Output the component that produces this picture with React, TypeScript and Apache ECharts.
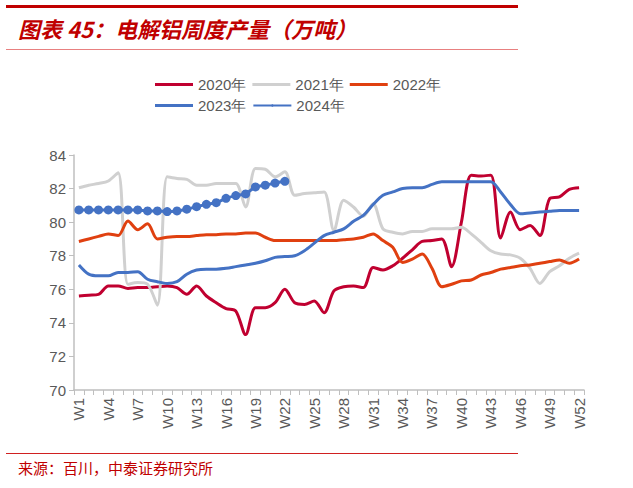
import { useRef, useEffect } from "react";
import * as echarts from "echarts";

const weeks = Array.from({ length: 52 }, (_, i) => `W${i + 1}`);

const y2020 = [
  75.6, 75.65, 75.7, 76.2, 76.2, 76.05, 76.1, 76.1, 76.15, 76.2, 76.1, 75.7, 76.2,
  75.6, 75.2, 74.85, 74.7, 73.3, 74.9, 74.9, 75.2, 76.0, 75.2, 75.1, 75.3, 74.6,
  75.9, 76.15, 76.2, 76.1, 77.3, 77.15, 77.4, 77.85, 78.35, 78.85, 78.9, 79.0, 77.35,
  80.0, 82.8, 82.75, 82.8, 79.05, 80.6, 79.55, 79.8, 79.2, 81.4, 81.5, 81.95, 82.05,
];
const y2021 = [
  82.05, 82.2, 82.3, 82.45, 82.95, 76.3, 76.4, 76.3, 75.05, 82.7, 82.6, 82.55, 82.2,
  82.2, 82.3, 82.3, 82.3, 80.9, 83.2, 83.15, 82.7, 83.0, 81.6, 81.7, 81.75, 81.8,
  79.5, 81.3, 80.9, 80.35, 81.1, 79.6, 79.4, 79.3, 79.45, 79.45, 79.6, 79.6, 79.6,
  79.7, 79.3, 78.8, 78.3, 78.1, 78.05, 77.85, 77.25, 76.35, 77.05, 77.4, 77.85, 78.15,
];
const y2022 = [
  78.85, 79.0, 79.15, 79.3, 79.2, 80.07, 79.55, 79.9, 79.0, 79.1, 79.15, 79.15, 79.2,
  79.25, 79.25, 79.3, 79.3, 79.35, 79.35, 79.1, 78.9, 78.9, 78.9, 78.9, 78.9, 78.9,
  78.9, 78.95, 79.0, 79.1, 79.3, 78.9, 78.5, 77.6, 77.8, 78.1, 77.25, 76.15, 76.3,
  76.5, 76.55, 76.85, 77.0, 77.2, 77.3, 77.4, 77.45, 77.55, 77.65, 77.75, 77.55, 77.8,
];
const y2023 = [
  77.45, 76.9, 76.8, 76.8, 77.0, 77.0, 77.05, 76.6, 76.45, 76.35, 76.45, 76.9, 77.15,
  77.2, 77.2, 77.25, 77.35, 77.45, 77.55, 77.7, 77.9, 77.95, 78.0, 78.3, 78.75, 79.2,
  79.4, 79.6, 80.05, 80.4, 81.05, 81.6, 81.8, 82.0, 82.05, 82.05, 82.25, 82.4, 82.4,
  82.4, 82.4, 82.4, 82.4, 81.8, 81.05, 80.5, 80.55, 80.6, 80.65, 80.7, 80.7, 80.7,
];
const y2024 = [
  80.73, 80.73, 80.73, 80.73, 80.73, 80.73, 80.73, 80.67, 80.67, 80.63, 80.67, 80.77,
  80.92, 81.06, 81.16, 81.42, 81.58, 81.68, 82.1, 82.2, 82.33, 82.43,
];

const seriesDefs = [
  { name: "2020年", data: y2020, color: "#c00030" },
  { name: "2021年", data: y2021, color: "#d0d0d0" },
  { name: "2022年", data: y2022, color: "#e04010" },
  { name: "2023年", data: y2023, color: "#4472c4" },
];

export default function App() {
  const ref = useRef<HTMLDivElement>(null);

  useEffect(() => {
    if (!ref.current) return;
    const chart = echarts.init(ref.current, undefined, { renderer: "svg" });
    const font = "'Liberation Sans', Arial, sans-serif";
    const series: echarts.SeriesOption[] = seriesDefs.map((s) => ({
      name: s.name,
      type: "line" as const,
      data: s.data,
      smooth: 0.3,
      symbol: "none",
      lineStyle: { width: 3, color: s.color },
      itemStyle: { color: s.color },
    }));
    series.push({
      name: "2024年",
      type: "line",
      data: y2024,
      smooth: 0.3,
      symbol: "circle",
      symbolSize: 9,
      showAllSymbol: true,
      lineStyle: { width: 3, color: "#4472c4" },
      itemStyle: { color: "#4472c4" },
      z: 5,
    });

    chart.setOption({
      animation: false,
      backgroundColor: "#fff",
      graphic: [
        { type: "rect", shape: { x: 6, y: 5, width: 512, height: 3 }, style: { fill: "#c00000" } },
        { type: "rect", shape: { x: 6, y: 49, width: 512, height: 1 }, style: { fill: "#e88080" } },
        {
          type: "text",
          left: 18,
          top: 17,
          style: {
            text: "图表 45：电解铝周度产量（万吨）",
            fill: "#c00000",
            font: "italic bold 22px 'Noto Sans CJK SC', sans-serif",
          },
        },
        { type: "rect", shape: { x: 6, y: 453, width: 512, height: 1 }, style: { fill: "#d02020" } },
        {
          type: "text",
          left: 18,
          top: 460,
          style: {
            text: "来源：百川，中泰证券研究所",
            fill: "#c00000",
            font: "15px 'Noto Sans CJK SC', sans-serif",
          },
        },
      ],
      legend: {
        left: 150,
        top: 72,
        width: 350,
        itemWidth: 38,
        itemHeight: 3,
        itemGap: 6,
        textStyle: { color: "#595959", fontSize: 15, fontFamily: font },
        data: [
          { name: "2020年", icon: "rect" },
          { name: "2021年", icon: "rect" },
          { name: "2022年", icon: "rect" },
          { name: "2023年", icon: "rect" },
          { name: "2024年" },
        ],
      },
      grid: { left: 74, right: 49, top: 155, bottom: 98 },
      xAxis: {
        type: "category",
        data: weeks,
        boundaryGap: true,
        axisLine: { lineStyle: { color: "#bfbfbf", width: 1.5 } },
        axisTick: { show: true, interval: 0, length: 5, lineStyle: { color: "#bfbfbf" } },
        axisLabel: {
          interval: 2,
          rotate: 90,
          color: "#595959",
          fontSize: 15,
          fontFamily: font,
        },
      },
      yAxis: {
        type: "value",
        min: 70,
        max: 84,
        interval: 2,
        axisLine: { show: true, lineStyle: { color: "#bfbfbf", width: 1.5 } },
        axisTick: { show: true, length: 5, lineStyle: { color: "#bfbfbf" } },
        splitLine: { show: false },
        axisLabel: { color: "#595959", fontSize: 15, fontFamily: font },
      },
      series,
    });
    return () => chart.dispose();
  }, []);

  return (
    <div
      ref={ref}
      style={{ position: "fixed", left: 0, top: 0, width: 633, height: 488 }}
    />
  );
}
